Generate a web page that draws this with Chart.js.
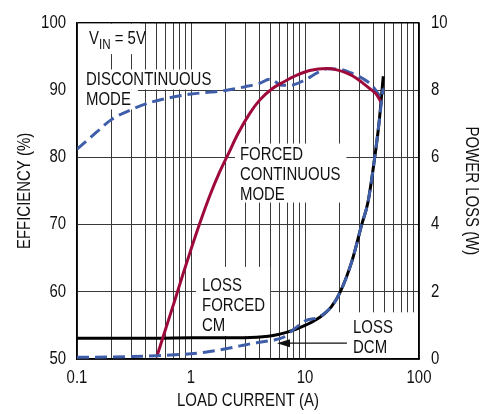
<!DOCTYPE html>
<html><head><meta charset="utf-8">
<script src="https://cdn.jsdelivr.net/npm/chart.js@4/dist/chart.umd.min.js"></script>
<style>html,body{margin:0;padding:0;background:#fff}canvas{display:block}</style>
</head><body>
<canvas id="c" width="487" height="414"></canvas>
<script>
// ---- tick values / labels ----
const xTickValues = [0.1,0.2,0.3,0.4,0.5,0.6,0.7,0.8,0.9,1,2,3,4,5,6,7,8,9,10,20,30,40,50,60,70,80,90,100];
const xLabelValues = [0.1, 1, 10, 100];
const xLabelTexts = ['0.1', '1', '10', '100'];

// ---- series: efficiency (%) ----
const fcmEffX = [0.5,0.6,0.72,0.85,1.0,1.2,1.47,1.75,2.11,2.6,3.3,4.0,5.25,6.5,8.5,11,15.5,19,23.3,28,32.4,37,42.6,47];
const fcmEffY = [50.3,54.5,58.7,62.6,66.3,70.3,74.4,77.5,80.4,83.6,86.6,88.5,90.3,91.2,92.2,92.9,93.2,93.0,92.5,91.8,91.0,90.2,89.3,88.0];

const dcmEffX = [0.1,0.15,0.2,0.31,0.45,0.63,1.0,1.5,1.95,3.0,4.0,4.9,5.2,6.3,7.4,10,12.9,15.6,20,25,30,35,40,45.5,48.4];
const dcmEffY = [81.2,83.8,85.6,87.2,88.2,88.8,89.4,89.7,89.9,90.5,91.0,91.6,91.5,90.7,90.7,91.5,92.6,93.15,93.1,92.6,92.0,91.3,90.4,89.0,88.3];

// ---- series: power loss (W) ----
const fcmLossX = [0.1,0.5,1,2,3.3,5.25,7,8.5,10,13.5,17,20.3,25.8,31.4,35.7,40.3,44.6,48.6];
const fcmLossY = [0.62,0.62,0.63,0.63,0.64,0.70,0.80,0.90,1.00,1.24,1.55,1.98,2.91,3.99,4.67,5.84,7.02,8.41];

const dcmLossX = [0.1,0.2,0.5,1.33,2.7,3.3,5.2,6.4,7.4,9,10.3,12.7,14,17,20.3,25.8,31.4,35.7,40.3,44.6,48.4];
const dcmLossY = [0.05,0.06,0.10,0.20,0.39,0.45,0.56,0.64,0.80,1.02,1.15,1.22,1.30,1.55,1.98,2.91,3.99,4.67,5.84,7.02,8.05];

// ---- annotation texts ----
const noteDCM = ['DISCONTINUOUS', 'MODE'];
const noteFCM = ['FORCED', 'CONTINUOUS', 'MODE'];
const noteLossFCM = ['LOSS', 'FORCED', 'CM'];
const noteLossDCM = ['LOSS', 'DCM'];

const FONT = "'Liberation Sans',Arial,sans-serif";
const NARROW = 0.83; // horizontal condensing of all text
const RED = '#9e0b3b', BLUE = '#3f5eaa', BLACK = '#000';

const pts = (xs, ys) => xs.map((x, i) => ({x, y: ys[i]}));

// condensed text rendering (the reference uses a narrow typeface)
const canvas = document.getElementById('c');
const ctx2d = canvas.getContext('2d');
const origFill = ctx2d.fillText.bind(ctx2d);
ctx2d.fillText = function (text, x, y, maxWidth) {
  this.save();
  this.translate(x, y);
  this.scale(NARROW, 1);
  if (maxWidth !== undefined) origFill(text, 0, 0, maxWidth / NARROW);
  else origFill(text, 0, 0);
  this.restore();
};

const notes = [
  {lines: noteDCM, x: 0.12, y: 90.68, pad: [10, 3, 7, 4], perLine: true},
  {lines: noteFCM, x: 2.69, y: 79.66, pad: [5, 3, 6, 3], perLine: false},
  {lines: noteLossFCM, x: 1.25, y: 60.13, pad: [6, 11, 5, 5], perLine: false},
  {lines: noteLossDCM, x: 26.4, y: 53.82, pad: [18, 8, 40, 8], perLine: false}
];

const notesPlugin = {
  id: 'notes',
  beforeDatasetsDraw(chart) {
    const {ctx, chartArea: ca, scales} = chart;
    const xs = scales.x, ys = scales.yEff;
    const mw = s => ctx.measureText(s).width * NARROW;
    ctx.save();
    ctx.beginPath();
    ctx.rect(ca.left + 1, ca.top + 1, ca.right - ca.left - 2, ca.bottom - ca.top - 2);
    ctx.clip();
    ctx.font = '18px ' + FONT;
    ctx.textBaseline = 'alphabetic';
    ctx.textAlign = 'left';
    const CAP = 13, LH = 20;
    for (const n of notes) {
      const x0 = xs.getPixelForValue(n.x), y0 = ys.getPixelForValue(n.y);
      const widths = n.lines.map(mw);
      const [pl, pt, pr, pb] = n.pad;
      ctx.fillStyle = '#fff';
      if (n.perLine) {
        n.lines.forEach((s, i) => {
          const by = y0 + i * LH;
          ctx.fillRect(x0 - pl, by - CAP - pt, widths[i] + pl + pr, CAP + pt + pb);
        });
      } else {
        const w = Math.max(...widths);
        const top = y0 - CAP - pt, bottom = y0 + (n.lines.length - 1) * LH + pb;
        ctx.fillRect(x0 - pl, top, w + pl + pr, bottom - top);
      }
      ctx.fillStyle = '#111';
      n.lines.forEach((s, i) => ctx.fillText(s, x0, y0 + i * LH));
    }
    // V_IN = 5V
    const vx = xs.getPixelForValue(0.1274), vy = ys.getPixelForValue(96.84);
    ctx.fillStyle = '#fff';
    ctx.fillRect(vx - 12, vy - CAP - 9, 63, CAP + 19);
    ctx.fillStyle = '#111';
    ctx.font = '18px ' + FONT;
    ctx.fillText('V', vx, vy);
    let cx = vx + mw('V');
    ctx.font = '14px ' + FONT;
    ctx.fillText('IN', cx, vy + 5);
    cx += mw('IN');
    ctx.font = '18px ' + FONT;
    ctx.fillText(' = 5V', cx, vy);
    // arrow for LOSS DCM
    const ay = ys.getPixelForValue(52.35);
    const ax1 = xs.getPixelForValue(23.3), ax0 = xs.getPixelForValue(5.68);
    ctx.strokeStyle = '#111';
    ctx.lineWidth = 1.2;
    ctx.beginPath();
    ctx.moveTo(ax1, ay);
    ctx.lineTo(ax0 + 10, ay);
    ctx.stroke();
    ctx.beginPath();
    ctx.moveTo(ax0, ay);
    ctx.lineTo(ax0 + 13, ay - 4);
    ctx.lineTo(ax0 + 13, ay + 4);
    ctx.closePath();
    ctx.fillStyle = '#111';
    ctx.fill();
    ctx.restore();
  }
};

const lineDs = (label, data, color, axis, dashed, order) => ({
  label, data, yAxisID: axis, borderColor: color, backgroundColor: color,
  borderWidth: 3, borderDash: dashed ? [12, 6] : [], pointRadius: 0,
  showLine: true, fill: false, cubicInterpolationMode: 'monotone', order
});

const GRID = '#3a3a3a';

new Chart(canvas, {
  type: 'scatter',
  data: {
    datasets: [
      lineDs('Loss FCM', pts(fcmLossX, fcmLossY), BLACK, 'yLoss', false, 4),
      lineDs('Efficiency DCM', pts(dcmEffX, dcmEffY), BLUE, 'yEff', true, 3),
      lineDs('Efficiency FCM', pts(fcmEffX, fcmEffY), RED, 'yEff', false, 2),
      lineDs('Loss DCM', pts(dcmLossX, dcmLossY), BLUE, 'yLoss', true, 1)
    ]
  },
  options: {
    responsive: false,
    devicePixelRatio: 1,
    animation: false,
    layout: {padding: {top: 18, left: 0, right: 0, bottom: 0}},
    plugins: {legend: {display: false}, tooltip: {enabled: false}},
    scales: {
      x: {
        type: 'logarithmic', min: 0.1, max: 100, position: 'bottom',
        afterBuildTicks: s => { s.ticks = xTickValues.map(v => ({value: v})); },
        afterFit: s => { s.height = 55; },
        ticks: {
          autoSkip: false, maxRotation: 0, padding: 8, color: '#111',
          font: {family: FONT, size: 18},
          callback: v => { const i = xLabelValues.findIndex(d => Math.abs(d - v) < 1e-9); return i >= 0 ? xLabelTexts[i] : ''; }
        },
        grid: {color: GRID, lineWidth: 1, drawTicks: false},
        border: {color: '#000', width: 1.5},
        title: {display: true, text: 'LOAD CURRENT (A)', color: '#111', font: {family: FONT, size: 18}, padding: {top: 0, bottom: 2}}
      },
      yEff: {
        type: 'linear', position: 'left', min: 50, max: 100,
        afterFit: s => { s.width = 77; },
        ticks: {stepSize: 10, padding: 11, color: '#111', font: {family: FONT, size: 18}},
        grid: {
          drawTicks: false,
          color: c => (c.tick && c.tick.value === 100) ? '#000' : GRID,
          lineWidth: c => (c.tick && c.tick.value === 100) ? 1.5 : 1
        },
        border: {color: '#000', width: 1.5},
        title: {display: true, text: 'EFFICIENCY (%)', color: '#111', font: {family: FONT, size: 18}, padding: {top: 14, bottom: 0}}
      },
      yLoss: {
        type: 'linear', position: 'right', min: 0, max: 10,
        afterFit: s => { s.width = 68; },
        ticks: {stepSize: 2, padding: 12, color: '#111', font: {family: FONT, size: 18}},
        grid: {display: false, drawTicks: false},
        border: {color: '#000', width: 1.5},
        title: {display: true, text: 'POWER LOSS (W)', color: '#111', font: {family: FONT, size: 18}, padding: {top: 5, bottom: 0}}
      }
    }
  },
  plugins: [notesPlugin]
});
</script>
</body></html>
